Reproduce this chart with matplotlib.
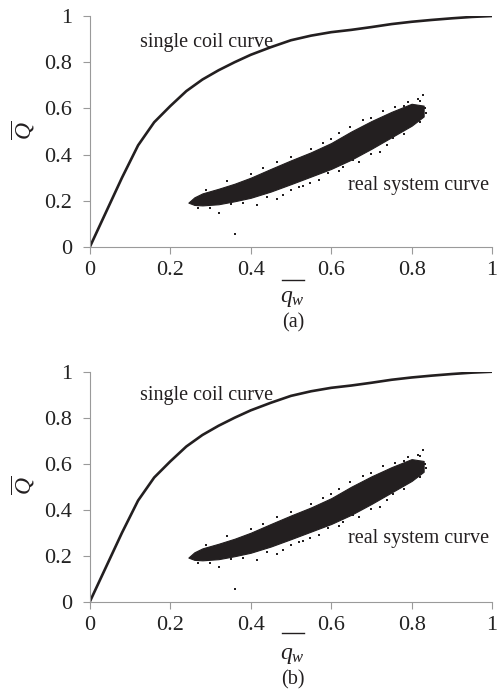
import matplotlib
matplotlib.use("Agg")
import matplotlib.pyplot as plt

plt.rcParams["font.family"] = ["Liberation Serif", "DejaVu Serif"]
plt.rcParams["mathtext.fontset"] = "custom"
plt.rcParams["mathtext.rm"] = "Liberation Serif"
plt.rcParams["mathtext.it"] = "Liberation Serif:italic"

# single coil curve
coil_q = [0, 0.04, 0.08, 0.12, 0.16, 0.2, 0.24, 0.28, 0.32, 0.36, 0.4, 0.45,
          0.5, 0.55, 0.6, 0.65, 0.7, 0.75, 0.8, 0.85, 0.9, 0.95, 1.0]
coil_Q = [0, 0.15, 0.30, 0.44, 0.54, 0.61, 0.675, 0.725, 0.765, 0.80, 0.832, 0.865,
          0.895, 0.915, 0.93, 0.94, 0.952, 0.965, 0.975, 0.983, 0.99, 0.996, 1.0]

# real system cloud: dense band edges
band_q = [0.245, 0.26, 0.28, 0.32, 0.36, 0.40, 0.45, 0.50, 0.55, 0.60, 0.65, 0.70, 0.75, 0.80, 0.83]
band_lo = [0.192, 0.182, 0.180, 0.185, 0.198, 0.213, 0.240, 0.272, 0.305, 0.338, 0.378, 0.425, 0.475, 0.525, 0.565]
band_hi = [0.192, 0.215, 0.232, 0.252, 0.274, 0.300, 0.338, 0.375, 0.410, 0.450, 0.500, 0.545, 0.585, 0.620, 0.612]

# scattered points round the band
out_q = [0.361, 0.320, 0.300, 0.415, 0.465, 0.481, 0.547, 0.593, 0.655, 0.721, 0.754,
         0.804, 0.833, 0.829, 0.465, 0.580, 0.646, 0.70, 0.78, 0.815, 0.52, 0.62,
         0.29, 0.34, 0.40, 0.43, 0.50, 0.55, 0.60, 0.62, 0.68, 0.73, 0.76, 0.79, 0.82,
         0.27, 0.35, 0.38, 0.44, 0.50, 0.53, 0.57, 0.63, 0.67, 0.70, 0.74, 0.78, 0.82, 0.835]
out_Q = [0.056, 0.149, 0.170, 0.182, 0.206, 0.225, 0.276, 0.319, 0.377, 0.413, 0.470,
         0.557, 0.600, 0.658, 0.369, 0.449, 0.521, 0.560, 0.610, 0.640, 0.260, 0.330,
         0.245, 0.285, 0.318, 0.340, 0.388, 0.424, 0.468, 0.492, 0.548, 0.590, 0.604, 0.628, 0.632,
         0.170, 0.186, 0.192, 0.216, 0.246, 0.266, 0.292, 0.345, 0.370, 0.402, 0.442, 0.490, 0.542, 0.580]

ticks = [0, 0.2, 0.4, 0.6, 0.8, 1]
tick_labels = ["0", "0.2", "0.4", "0.6", "0.8", "1"]

fig = plt.figure(figsize=(4.99, 6.93), dpi=100)
ax_a = fig.add_axes([0.180, 0.6436, 0.806, 0.3333])
ax_b = fig.add_axes([0.180, 0.1317, 0.806, 0.3319])

dark = "#231f20"
grey = "#9a9a9a"


def draw(ax, coil_txt_y, real_txt_y, bar_y, q_y):
    ax.plot(coil_q, coil_Q, color=dark, lw=1.9)
    ax.fill_between(band_q, band_lo, band_hi, color=dark, lw=0.8, edgecolor=dark)
    ax.plot(out_q, out_Q, "s", color=dark, ms=1.7, mew=0)
    ax.set_xlim(0, 1)
    ax.set_ylim(0, 1)
    ax.set_xticks(ticks)
    ax.set_xticklabels(tick_labels)
    ax.set_yticks(ticks)
    ax.set_yticklabels(tick_labels)
    for s in ["top", "right"]:
        ax.spines[s].set_visible(False)
    for s in ["left", "bottom"]:
        ax.spines[s].set_color(grey)
        ax.spines[s].set_linewidth(0.8)
    ax.tick_params(direction="out", length=5, width=0.8, color=grey,
                   labelsize=16, labelcolor="#222222")
    ax.tick_params(axis="x", pad=5)
    ax.tick_params(axis="y", pad=8)
    ax.text(0.125, coil_txt_y, "single coil curve", fontsize=14.5, color=dark, va="center")
    ax.text(0.642, real_txt_y, "real system curve", fontsize=14.5, color=dark, va="center")
    ax.text(-0.165, 0.506, r"$\overline{Q}$", fontsize=17, rotation=90,
            transform=ax.transAxes, ha="center", va="center", color=dark)
    ax.plot([0.477, 0.533], [bar_y, bar_y], color=dark, lw=1.0,
            transform=ax.transAxes, clip_on=False)
    ax.text(0.503, q_y, r"$q_w$", fontsize=17, transform=ax.transAxes,
            ha="center", va="center", color=dark)


draw(ax_a, 0.886, 0.268, -0.143, -0.222)
draw(ax_b, 0.896, 0.276, -0.136, -0.232)

fig.text(0.587, 1 - 323 / 693, "(a)", fontsize=14.5, ha="center", va="center", color=dark)
fig.text(0.587, 1 - 680 / 693, "(b)", fontsize=14.5, ha="center", va="center", color=dark)

fig.savefig("out.png", dpi=100)
